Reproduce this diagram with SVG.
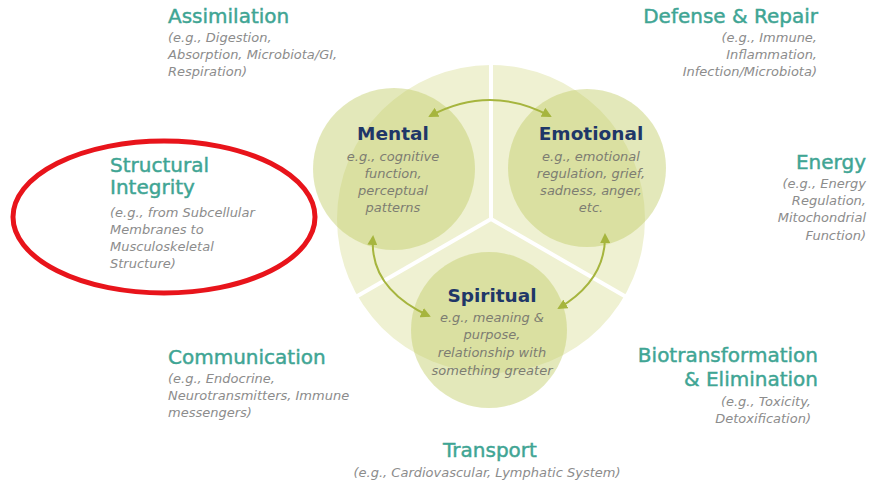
<svg xmlns="http://www.w3.org/2000/svg" width="871" height="485" viewBox="0 0 871 485">
<defs>
<style>
.t{font-family:"DejaVu Sans",sans-serif;font-size:20px;fill:#3fa594;stroke:#3fa594;stroke-width:0.45px;}
.d{font-family:"DejaVu Sans",sans-serif;font-size:13px;font-style:italic;fill:#8c8c8c;}
.h{font-family:"DejaVu Sans",sans-serif;font-size:18.5px;font-weight:bold;fill:#1f3768;text-anchor:middle;}
.c{font-family:"DejaVu Sans",sans-serif;font-size:13px;font-style:italic;fill:#7d7d72;text-anchor:middle;}
.r{text-anchor:end;}
.m{text-anchor:middle;}
.sc{fill:#c2cc66;fill-opacity:0.45;}
.arr{fill:none;stroke:#a6b53e;stroke-width:2;marker-start:url(#ah);marker-end:url(#ah);}
</style>
<marker id="ah" viewBox="0 0 10 10" refX="8" refY="5" markerWidth="5" markerHeight="5" orient="auto-start-reverse" markerUnits="strokeWidth">
<path d="M0,0 L10,5 L0,10 z" fill="#a6b53e"/>
</marker>
</defs>
<rect width="871" height="485" fill="#ffffff"/>
<g id="wheel">
<circle cx="491" cy="219" r="154" fill="#eff1d2"/>
<g stroke="#ffffff" stroke-width="4">
<line x1="491" y1="219" x2="491" y2="62"/>
<line x1="491" y1="219" x2="354" y2="298"/>
<line x1="491" y1="219" x2="628" y2="298"/>
</g>
</g>
<g id="mental">
<circle class="sc" cx="394" cy="169" r="81"/>
<text class="h" x="393" y="140">Mental</text>
<text class="c" x="393" y="161">e.g., cognitive</text>
<text class="c" x="393" y="178">function,</text>
<text class="c" x="393" y="195">perceptual</text>
<text class="c" x="393" y="212">patterns</text>
</g>
<g id="emotional">
<circle class="sc" cx="587" cy="168" r="79"/>
<text class="h" x="591" y="140">Emotional</text>
<text class="c" x="591" y="161">e.g., emotional</text>
<text class="c" x="591" y="178">regulation, grief,</text>
<text class="c" x="591" y="195">sadness, anger,</text>
<text class="c" x="591" y="212">etc.</text>
</g>
<g id="spiritual">
<circle class="sc" cx="489" cy="330" r="78"/>
<text class="h" x="492" y="302">Spiritual</text>
<text class="c" x="492" y="322">e.g., meaning &amp;</text>
<text class="c" x="492" y="339">purpose,</text>
<text class="c" x="492" y="357">relationship with</text>
<text class="c" x="492" y="375">something greater</text>
</g>
<g id="connectors">
<path class="arr" d="M430,116 Q490,84 550,116"/>
<path class="arr" d="M373,237 Q369,288 429,316"/>
<path class="arr" d="M605,235 Q606,280 559,308"/>
</g>
<g id="assimilation">
<text class="t" x="168" y="23">Assimilation</text>
<text class="d" x="168" y="42">(e.g., Digestion,</text>
<text class="d" x="168" y="59">Absorption, Microbiota/GI,</text>
<text class="d" x="168" y="76">Respiration)</text>
</g>
<g id="defense">
<text class="t r" x="818" y="23">Defense &amp; Repair</text>
<text class="d r" x="817" y="42">(e.g., Immune,</text>
<text class="d r" x="817" y="59">Inflammation,</text>
<text class="d r" x="817" y="76">Infection/Microbiota)</text>
</g>
<g id="structural">
<ellipse cx="164" cy="217" rx="151" ry="76" fill="none" stroke="#e8141b" stroke-width="5"/>
<text class="t" x="110" y="172">Structural</text>
<text class="t" x="110" y="194">Integrity</text>
<text class="d" x="110" y="217">(e.g., from Subcellular</text>
<text class="d" x="110" y="234">Membranes to</text>
<text class="d" x="110" y="251">Musculoskeletal</text>
<text class="d" x="110" y="268">Structure)</text>
</g>
<g id="energy">
<text class="t r" x="866" y="169">Energy</text>
<text class="d r" x="866" y="188">(e.g., Energy</text>
<text class="d r" x="866" y="205">Regulation,</text>
<text class="d r" x="866" y="222">Mitochondrial</text>
<text class="d r" x="866" y="240">Function)</text>
</g>
<g id="communication">
<text class="t" x="168" y="364">Communication</text>
<text class="d" x="168" y="383">(e.g., Endocrine,</text>
<text class="d" x="168" y="400">Neurotransmitters, Immune</text>
<text class="d" x="168" y="417">messengers)</text>
</g>
<g id="biotransformation">
<text class="t r" x="818" y="362">Biotransformation</text>
<text class="t r" x="818" y="386">&amp; Elimination</text>
<text class="d r" x="811" y="406">(e.g., Toxicity,</text>
<text class="d r" x="811" y="423">Detoxification)</text>
</g>
<g id="transport">
<text class="t m" x="490" y="457">Transport</text>
<text class="d m" x="487" y="477">(e.g., Cardiovascular, Lymphatic System)</text>
</g>
</svg>
